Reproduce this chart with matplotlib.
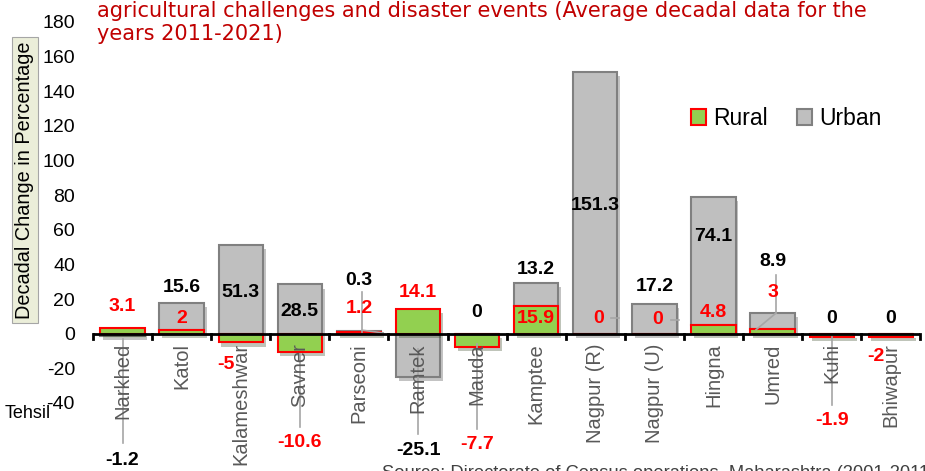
import matplotlib.pyplot as plt
import matplotlib.patheffects as pe
import numpy as np

# data
tehsils = ["Narkhed", "Katol", "Kalameshwar", "Savner", "Parseoni", "Ramtek",
           "Mauda", "Kamptee", "Nagpur (R)", "Nagpur (U)", "Hingna", "Umred",
           "Kuhi", "Bhiwapur"]
rural = [3.1, 2, -5, -10.6, 1.2, 14.1, -7.7, 15.9, 0, 0, 4.8, 3, -1.9, -2]
urban = [-1.2, 15.6, 51.3, 28.5, 0.3, -25.1, 0, 13.2, 151.3, 17.2, 74.1, 8.9, 0, 0]
rural_labels = ["3.1", "2", "-5", "-10.6", "1.2", "14.1", "-7.7", "15.9", "0", "0",
                "4.8", "3", "-1.9", "-2"]
urban_labels = ["-1.2", "15.6", "51.3", "28.5", "0.3", "-25.1", "0", "13.2", "151.3",
                "17.2", "74.1", "8.9", "0", "0"]

# label placement (x offset in categories, y in data units)
rural_pos = [(0, 15.6), (0, 9), (-0.25, -18), (0, -63), (0, 14.5), (0, 24), (0, -64),
             (0, 9), (0.05, 9), (0.05, 8), (0, 12), (0, 24), (0, -50), (-0.25, -13)]
urban_pos = [(0, -73), (0, 26.5), (0, 24), (0, 13), (0, 31), (0, -67.5), (0, 12),
             (0, 37), (0, 74), (0, 27), (0, 56), (0, 41.5), (0, 9), (0, 9)]
# leader lines: (x0, y0, x1, y1) relative to category index
leaders = [(0, -63, 0, -3), (3, -54, 3, -12), (5, -58, 5, -9), (6, -55, 6, -6),
           (12, -41, 12, -2), (4.06, 24, 4.06, 1), (4.06, 2, 4.41, 0.5),
           (11.06, 34, 11.06, 12), (11.06, 12, 10.72, 2.3),
           (8.26, 9, 8.4, 9), (9.28, 8, 9.42, 8)]

LABEL_FONT = "Liberation Sans"


def main():
    fig = plt.figure(figsize=(9.25, 4.71), dpi=100)
    ax = fig.add_axes([0.1005, 0.1444, 0.8945, 0.809])

    x = np.arange(len(tehsils))
    rural_a = np.array(rural, dtype=float)
    urban_a = np.array(urban, dtype=float)
    # excel style stacking: positives on positives, negatives on negatives
    urban_bottom = np.where(urban_a >= 0, np.clip(rural_a, 0, None), np.clip(rural_a, None, 0))

    shadow = [pe.SimplePatchShadow(offset=(2, -3), alpha=0.3), pe.Normal()]
    width = 0.75
    rb = ax.bar(x, rural_a, width, color="#92d050", edgecolor="#ff0000", linewidth=1.5,
                label="Rural", zorder=3)
    ub = ax.bar(x, urban_a, width, bottom=urban_bottom, color="#bfbfbf",
                edgecolor="#808080", linewidth=1.5, label="Urban", zorder=2)
    for p in list(rb) + list(ub):
        p.set_path_effects(shadow)

    # leader lines
    for x0, y0, x1, y1 in leaders:
        ax.plot([x0, x1], [y0, y1], color="#a6a6a6", lw=1.2, zorder=4, clip_on=False)

    for i in range(len(tehsils)):
        dx, y = rural_pos[i]
        ax.text(i + dx, y, rural_labels[i], color="#ff0000", fontsize=14,
                fontweight="bold", ha="center", va="center", family=LABEL_FONT,
                zorder=8, clip_on=False)
        dx, y = urban_pos[i]
        ax.text(i + dx, y, urban_labels[i], color="black", fontsize=14,
                fontweight="bold", ha="center", va="center", family=LABEL_FONT,
                zorder=8, clip_on=False)

    ax.set_xlim(-0.5, len(tehsils) - 0.5)
    ax.set_ylim(-40, 180)
    ax.set_yticks(range(-40, 181, 20))
    ax.set_yticklabels([str(v) for v in range(-40, 181, 20)], family=LABEL_FONT,
                       fontsize=14)
    ax.tick_params(axis="y", length=0, pad=13)

    for s in ["top", "right", "left", "bottom"]:
        ax.spines[s].set_visible(False)
    ax.axhline(0, color="black", lw=2, zorder=5)
    # category boundary ticks hanging from the zero line
    for b in np.arange(-0.5, len(tehsils), 1.0):
        ax.plot([b, b], [0, -3], color="black", lw=2, zorder=5, clip_on=False)
    ax.set_xticks([])
    for i, name in enumerate(tehsils):
        ax.text(i, -5.5, name, rotation=90, ha="center", va="top", color="#595959",
                fontsize=14.5, family=LABEL_FONT, zorder=7)

    leg = ax.legend(loc="center", bbox_to_anchor=(0.85, 0.748),
                    bbox_transform=fig.transFigure, ncol=2, frameon=False,
                    prop={"family": LABEL_FONT, "size": 16.5}, handlelength=0.65,
                    handleheight=0.65, columnspacing=1.3, handletextpad=0.3)
    for h in leg.legend_handles:
        h.set_path_effects([])

    fig.text(97 / 925, 1 - 1 / 471,
             "agricultural challenges and disaster events (Average decadal data for the\n"
             "years 2011-2021)", color="#c00000", fontsize=15, ha="left", va="top",
             family="DejaVu Sans", linespacing=1.2)

    fig.text(0.027, 0.618, "Decadal Change in Percentage", rotation=90, ha="center",
             va="center", fontsize=14.3, family=LABEL_FONT,
             bbox=dict(boxstyle="square,pad=0.2", facecolor="#ebeed9",
                       edgecolor="#a6a6a6", lw=0.8))
    fig.text(5 / 925, 1 - 413 / 471, "Tehsil", fontsize=13, family=LABEL_FONT,
             ha="left", va="center")
    fig.text(382 / 925, 1 - 465 / 471,
             "Source: Directorate of Census operations, Maharashtra (2001-2011)",
             fontsize=13.2, family=LABEL_FONT, color="#404040", ha="left", va="top")

    fig.savefig("out.png", dpi=100)


if __name__ == "__main__":
    main()
